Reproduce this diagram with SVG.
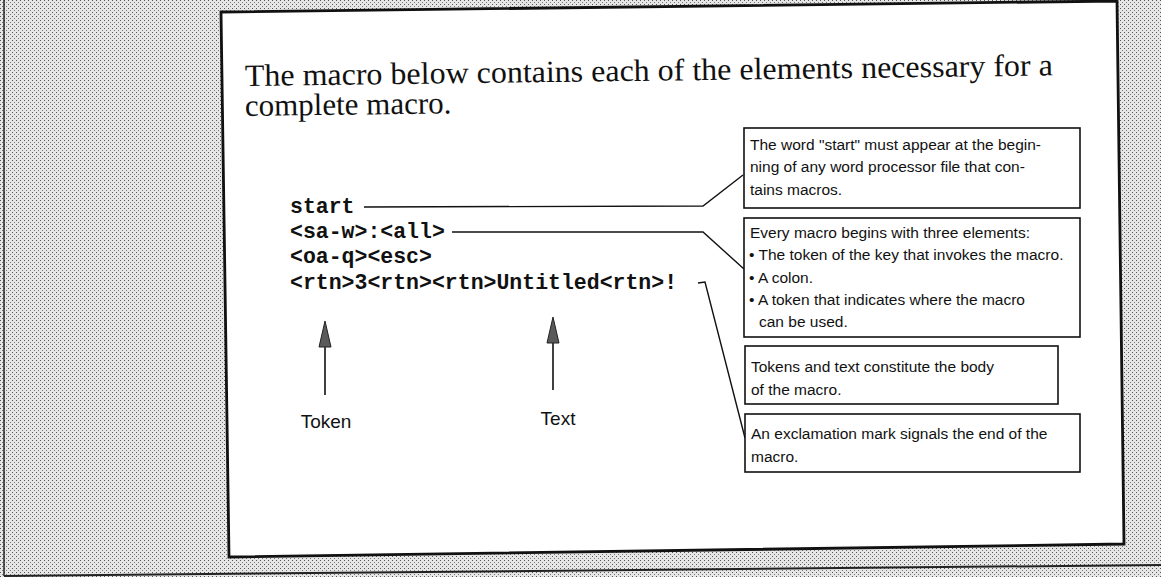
<svg xmlns="http://www.w3.org/2000/svg" width="1161" height="577" viewBox="0 0 1161 577">
<style>
.title{font-family:"Liberation Serif","Times New Roman",serif;font-size:31px;fill:#111}
.code{font-family:"Liberation Mono","Courier New",monospace;font-weight:bold;font-size:21.5px;fill:#111}
.note{font-family:"Liberation Sans",Arial,sans-serif;font-size:15.5px;fill:#111}
.lbl{font-family:"Liberation Sans",Arial,sans-serif;font-size:19px;fill:#111}
.box{fill:#fff;stroke:#111;stroke-width:1.6}
.conn{fill:none;stroke:#111;stroke-width:1.4}
.shaft{stroke:#111;stroke-width:1.6}
.head{fill:#5a5a5a;stroke:#222;stroke-width:1}
</style>
<defs>
<pattern id="stip" width="4" height="4" patternUnits="userSpaceOnUse">
<rect width="4" height="4" fill="#e6e6e6"/>
<rect x="0" y="0" width="1" height="1" fill="#555"/>
<rect x="2" y="2" width="1" height="1" fill="#777"/>
</pattern>
</defs>
<rect width="1161" height="577" fill="url(#stip)"/>
<line x1="4" y1="0" x2="4" y2="576" stroke="#222" stroke-width="1.5"/>
<line x1="4" y1="576" x2="1161" y2="565" stroke="#222" stroke-width="2"/>
<polygon points="221,12 1117,1 1124,544 229,557" fill="#fff" stroke="#111" stroke-width="2.8"/>

<g id="title">
<text class="title" x="245" y="86" textLength="808" lengthAdjust="spacingAndGlyphs" transform="rotate(-0.75 245 86)">The macro below contains each of the elements necessary for a</text>
<text class="title" x="245" y="116" transform="rotate(-0.75 245 116)">complete macro.</text>
</g>

<g id="macro-code">
<text class="code" x="290" y="213">start</text>
<text class="code" x="290" y="238">&lt;sa-w&gt;:&lt;all&gt;</text>
<text class="code" x="290" y="263">&lt;oa-q&gt;&lt;esc&gt;</text>
<text class="code" x="290" y="289">&lt;rtn&gt;3&lt;rtn&gt;&lt;rtn&gt;Untitled&lt;rtn&gt;!</text>
</g>

<g id="connectors">
<polyline class="conn" points="364,207 703,206 743,175"/>
<polyline class="conn" points="452,232 703,232 744,269"/>
<polyline class="conn" points="698,283 705,282 745,438"/>
<line class="shaft" x1="325" y1="345" x2="325" y2="395"/>
<polygon class="head" points="325,321 319,347 331,347"/>
<line class="shaft" x1="553" y1="341" x2="553" y2="390"/>
<polygon class="head" points="553,317 547,343 559,343"/>
</g>

<g id="label-token"><text class="lbl" x="326" y="428" text-anchor="middle">Token</text></g>
<g id="label-text"><text class="lbl" x="558" y="425" text-anchor="middle">Text</text></g>

<g id="note-start">
<rect class="box" x="744" y="128" width="336" height="80"/>
<text class="note" x="750" y="150">The word "start" must appear at the begin-</text>
<text class="note" x="750" y="172">ning of any word processor file that con-</text>
<text class="note" x="750" y="195">tains macros.</text>
</g>

<g id="note-elements">
<rect class="box" x="744" y="218" width="336" height="119"/>
<text class="note" x="750" y="238">Every macro begins with three elements:</text>
<text class="note" x="749" y="260">• The token of the key that invokes the macro.</text>
<text class="note" x="749" y="283">• A colon.</text>
<text class="note" x="749" y="305">• A token that indicates where the macro</text>
<text class="note" x="759" y="327">can be used.</text>
</g>

<g id="note-body">
<rect class="box" x="745" y="346" width="313" height="58"/>
<text class="note" x="751" y="372">Tokens and text constitute the body</text>
<text class="note" x="751" y="395">of the macro.</text>
</g>

<g id="note-end">
<rect class="box" x="745" y="414" width="335" height="58"/>
<text class="note" x="751" y="439">An exclamation mark signals the end of the</text>
<text class="note" x="751" y="462">macro.</text>
</g>
</svg>
